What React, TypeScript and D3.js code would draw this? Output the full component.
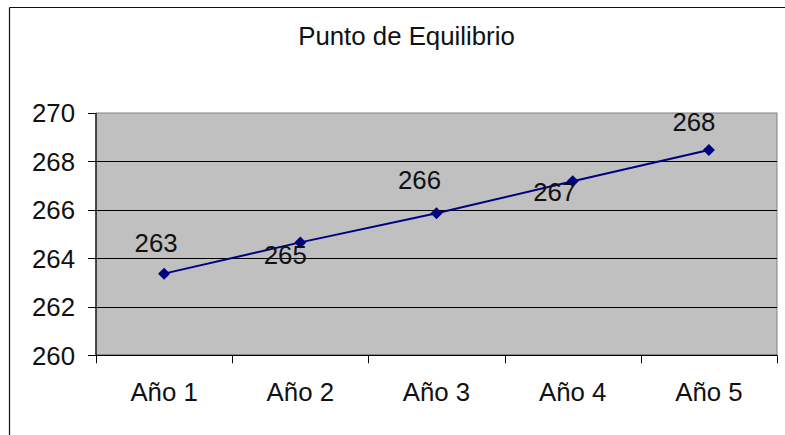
import React from "react";
import * as d3 from "d3";

const title = "Punto de Equilibrio";
const categories = ["Año 1", "Año 2", "Año 3", "Año 4", "Año 5"];
const values = [263.37, 264.66, 265.86, 267.18, 268.47];
const yTicks = [260, 262, 264, 266, 268, 270];
// label placement offsets relative to each point (dx, dy of baseline)
const labelOffsets: [number, number][] = [
  [-8, -22],
  [-15, 22],
  [-17, -24],
  [-18, 20],
  [-15, -19],
];

const W = 785;
const H = 435;
const plot = { left: 96, right: 777, top: 113, bottom: 355.3 };
const FONT = "'Liberation Sans', Arial, sans-serif";
const FS = 25.8;

export default function App() {
  const x = d3
    .scaleBand<string>()
    .domain(categories)
    .range([plot.left, plot.right])
    .padding(0);
  const y = d3.scaleLinear().domain([260, 270]).range([plot.bottom, plot.top]);
  const cx = (c: string) => (x(c) as number) + x.bandwidth() / 2;

  const line = d3
    .line<number>()
    .x((_, i) => cx(categories[i]))
    .y((d) => y(d));

  const diamond = d3.symbol().type(d3.symbolDiamond2).size(92)() as string;

  const boundaries = categories.map((c) => x(c) as number).concat([plot.right]);

  return (
    <svg
      width={W}
      height={H}
      style={{ position: "absolute", left: 0, top: 0, background: "#fff" }}
      fontFamily={FONT}
    >
      <rect x={0} y={0} width={W} height={H} fill="#fff" />
      {/* outer chart frame */}
      <line x1={9.5} y1={7.5} x2={W} y2={7.5} stroke="#111" strokeWidth={1.2} />
      <line x1={9.5} y1={7.5} x2={9.5} y2={H} stroke="#111" strokeWidth={1.2} />

      <text x={406.5} y={45} textAnchor="middle" fontSize={FS} fill="#111">
        {title}
      </text>

      {/* plot area */}
      <rect
        x={plot.left}
        y={plot.top}
        width={plot.right - plot.left}
        height={plot.bottom - plot.top}
        fill="#C0C0C0"
        stroke="#808080"
        strokeWidth={1}
      />
      {yTicks
        .filter((t) => t !== 260 && t !== 270)
        .map((t) => (
          <line
            key={"g" + t}
            x1={plot.left}
            x2={plot.right}
            y1={Math.round(y(t)) + 0.5}
            y2={Math.round(y(t)) + 0.5}
            stroke="#000"
            strokeWidth={1}
          />
        ))}
      {/* axes */}
      <line x1={plot.left} x2={plot.left} y1={plot.top} y2={plot.bottom} stroke="#000" strokeWidth={1.2} />
      <line x1={plot.left} x2={plot.right} y1={plot.bottom} y2={plot.bottom} stroke="#000" strokeWidth={1.2} />
      {yTicks.map((t) => (
        <g key={"yt" + t}>
          <line
            x1={plot.left - 8}
            x2={plot.left}
            y1={Math.round(y(t)) + 0.5}
            y2={Math.round(y(t)) + 0.5}
            stroke="#000"
          />
          <text
            x={75}
            y={y(t)}
            dy="0.36em"
            textAnchor="end"
            fontSize={FS}
            fill="#111"
          >
            {t}
          </text>
        </g>
      ))}
      {boundaries.map((b, i) => (
        <line
          key={"xt" + i}
          x1={Math.round(b) + 0.5}
          x2={Math.round(b) + 0.5}
          y1={plot.bottom}
          y2={plot.bottom + 8}
          stroke="#000"
        />
      ))}
      {categories.map((c) => (
        <text key={"xl" + c} x={cx(c)} y={401} textAnchor="middle" fontSize={FS} fill="#111">
          {c}
        </text>
      ))}

      {/* series */}
      <path d={line(values) as string} fill="none" stroke="#000080" strokeWidth={2} />
      {values.map((v, i) => (
        <path
          key={"m" + i}
          d={diamond}
          transform={`translate(${cx(categories[i])},${y(v)})`}
          fill="#000080"
        />
      ))}
      {values.map((v, i) => (
        <text
          key={"l" + i}
          x={cx(categories[i]) + labelOffsets[i][0]}
          y={y(v) + labelOffsets[i][1]}
          textAnchor="middle"
          fontSize={FS}
          fill="#111"
        >
          {Math.round(v)}
        </text>
      ))}
    </svg>
  );
}
